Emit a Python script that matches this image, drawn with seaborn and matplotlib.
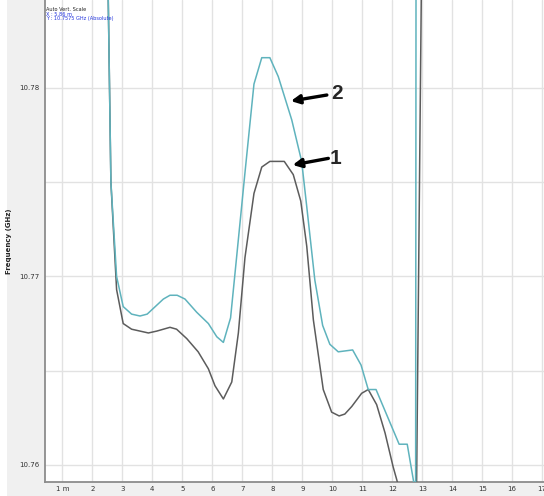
import numpy as np
import pandas as pd
import matplotlib
matplotlib.use("Agg")
import matplotlib.pyplot as plt
import seaborn as sns

# trace 1 (grey) and trace 2 (teal), distance in m, frequency in GHz
dist_1 = [2.52, 2.62, 2.81, 3.03, 3.31, 3.87, 4.15, 4.59, 4.81, 5.15, 5.53, 5.87,
          6.09, 6.37, 6.65, 6.87, 7.09, 7.39, 7.65, 7.92, 8.40, 8.70, 8.95, 9.15,
          9.37, 9.70, 9.98, 10.23, 10.42, 10.65, 10.98, 11.20, 11.48, 11.76, 12.03,
          12.40, 12.80, 13.00]
freq_1 = [10.7860, 10.7750, 10.7693, 10.7675, 10.7672, 10.7670, 10.7671, 10.7673,
          10.7672, 10.7667, 10.7660, 10.7651, 10.7642, 10.7635, 10.7644, 10.7670,
          10.7710, 10.7744, 10.7758, 10.7761, 10.7761, 10.7754, 10.7740, 10.7716,
          10.7677, 10.7640, 10.7628, 10.7626, 10.7627, 10.7631, 10.7638, 10.7640,
          10.7632, 10.7617, 10.7599, 10.7578, 10.7570, 10.7900]

dist_2 = [2.52, 2.62, 2.81, 3.03, 3.31, 3.59, 3.83, 4.37, 4.59, 4.83, 5.09, 5.48,
          5.87, 6.15, 6.37, 6.61, 6.81, 7.09, 7.39, 7.65, 7.92, 8.20, 8.65, 8.98,
          9.15, 9.42, 9.68, 9.92, 10.20, 10.68, 10.96, 11.20, 11.46, 12.23, 12.50,
          12.78, 12.80]
freq_2 = [10.7860, 10.7750, 10.7700, 10.7684, 10.7680, 10.7679, 10.7680, 10.7688,
          10.7690, 10.7690, 10.7688, 10.7681, 10.7675, 10.7668, 10.7665, 10.7678,
          10.7710, 10.7755, 10.7802, 10.7816, 10.7816, 10.7806, 10.7783, 10.7761,
          10.7737, 10.7698, 10.7674, 10.7664, 10.7660, 10.7661, 10.7653, 10.7640,
          10.7640, 10.7611, 10.7611, 10.7585, 10.8000]

x_ticks = list(range(1, 18))
x_labels = ["1 m"] + [str(v) for v in range(2, 18)]
y_major = [10.76, 10.77, 10.78]
y_grid = [10.76, 10.765, 10.77, 10.775, 10.78]

df = pd.concat([
    pd.DataFrame({"dist": dist_1, "freq": freq_1, "trace": "1"}),
    pd.DataFrame({"dist": dist_2, "freq": freq_2, "trace": "2"}),
])

sns.set_style("white")
fig = plt.figure(figsize=(5.44, 4.96), dpi=100, facecolor="#f0f0f0")
# thin white strip at the far left, as in the screenshot
fig.patches.append(plt.Rectangle((0, 0), 7 / 544, 1, transform=fig.transFigure,
                                 facecolor="white", edgecolor="none", zorder=-1))
ax = fig.add_axes([44.7 / 544, 13.7 / 496, 499.3 / 544, 482.3 / 496])
ax.set_facecolor("white")

sns.lineplot(data=df, x="dist", y="freq", hue="trace", palette={"1": "#5c5c5c", "2": "#5fb3bd"},
             estimator=None, sort=False, lw=1.1, legend=False, ax=ax, zorder=3)

ax.set_xlim(0.413, 17.06)
ax.set_ylim(10.75908, 10.78466)

ax.set_xticks(x_ticks)
ax.set_xticklabels(x_labels, fontsize=5, color="#333333")
ax.set_yticks(y_grid)
ax.set_yticklabels([f"{v:.2f}" if v in y_major else "" for v in y_grid], fontsize=5, color="#333333")
ax.tick_params(axis="x", length=0, pad=3)
ax.tick_params(axis="y", length=3, width=0.8, color="#c8c8c8", pad=1)
ax.grid(True, color="#e2e2e2", lw=1.0, zorder=0)

for side in ["top", "right"]:
    ax.spines[side].set_visible(False)
for side in ["left", "bottom"]:
    ax.spines[side].set_color("#8c8c8c")
    ax.spines[side].set_linewidth(1.3)

ax.set_xlabel("")
ax.set_ylabel("Frequency (GHz)", fontsize=5, fontweight="bold", labelpad=5)

# cursor readout in the corner
ax.text(0.003, 0.986, "Auto Vert. Scale", transform=ax.transAxes, fontsize=3.6, color="#222222", va="top")
ax.text(0.003, 0.976, "X : 5.86 m", transform=ax.transAxes, fontsize=3.6, color="#2233dd", va="top")
ax.text(0.003, 0.966, "Y : 10.7575 GHz (Absolute)", transform=ax.transAxes, fontsize=3.6, color="#2233dd", va="top")

# callout arrows
arrow = dict(arrowstyle="-|>", color="black", lw=2.4, mutation_scale=13, shrinkA=0, shrinkB=0)
ax.annotate("", xy=(8.62, 10.7793), xytext=(9.82, 10.77962), arrowprops=arrow, zorder=5)
ax.text(10.15, 10.77972, "2", fontsize=15, fontweight="bold", family="Liberation Sans",
        ha="center", va="center", zorder=5)
ax.annotate("", xy=(8.68, 10.77591), xytext=(9.87, 10.77626), arrowprops=arrow, zorder=5)
ax.text(10.12, 10.77628, "1", fontsize=15, fontweight="bold", family="Liberation Sans",
        ha="center", va="center", zorder=5)

fig.savefig("out.png", dpi=100, facecolor=fig.get_facecolor())
